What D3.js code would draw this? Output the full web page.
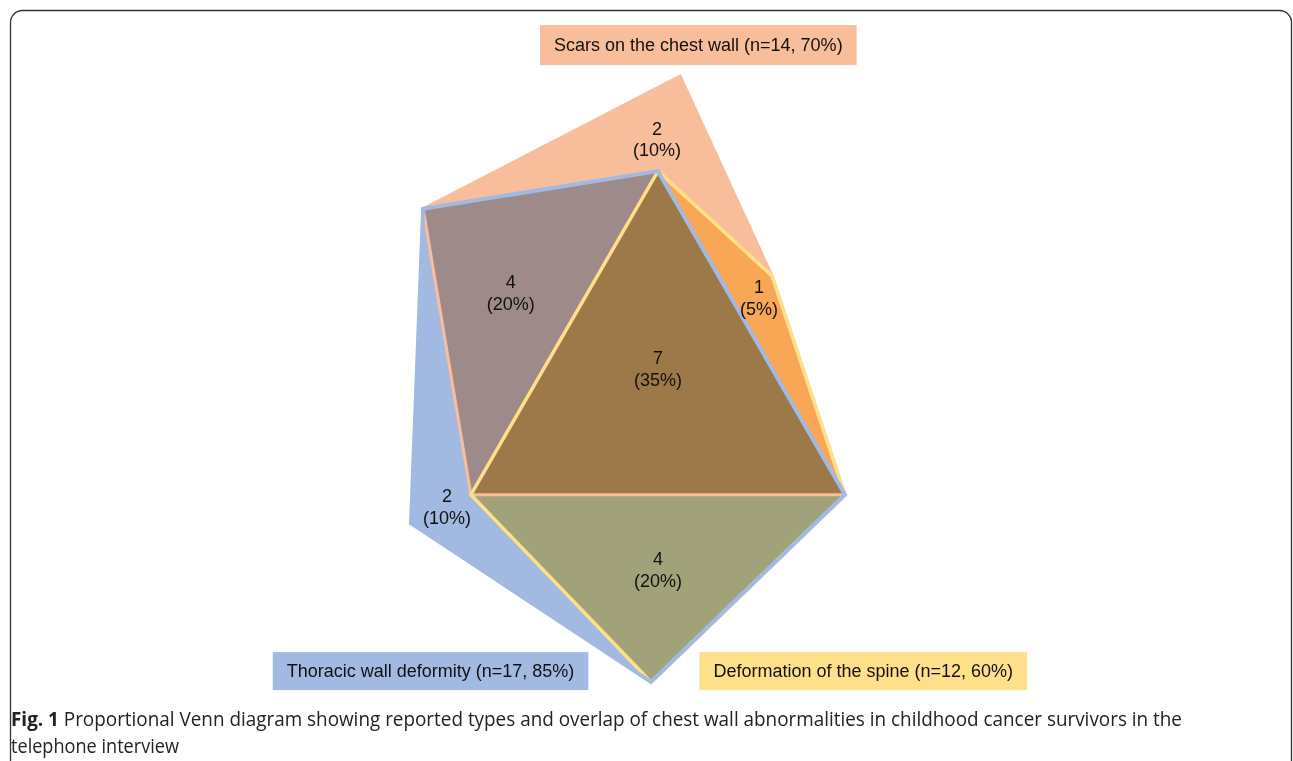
<!DOCTYPE html>
<html>
<head>
<meta charset="utf-8">
<script src="https://cdn.jsdelivr.net/npm/d3@7"></script>
<style>
  body { margin: 0; background: #fff; }
  .fill { mix-blend-mode: multiply; }
  .count { font-family: "Liberation Sans", Arial, sans-serif; font-size: 18px; fill: #111; }
  .setlabel { font-family: "Liberation Sans", Arial, sans-serif; font-size: 18px; fill: #111; }
  .caption { font-family: "Open Sans", sans-serif; font-size: 20px; fill: #222; }
</style>
</head>
<body>
<svg id="chart" width="1293" height="761"></svg>
<script>
// sets shown in the diagram
var setNames = ["Scars on the chest wall", "Thoracic wall deformity", "Deformation of the spine"];
var setCounts = [14, 17, 12];
var setPercents = [70, 85, 60];
var setColors = ["#F8BE9B", "#A2B9E2", "#FFE08A"];

// overlap regions: which sets, count, percent
var regionSets = [["S"], ["S", "T"], ["S", "D"], ["S", "T", "D"], ["T"], ["T", "D"]];
var regionCounts = [2, 4, 1, 7, 2, 4];
var regionPercents = [10, 20, 5, 35, 10, 20];

// hand laid out outline of each set, in diagram units (0-100)
var shapeScars = [[2.8, 21.9], [62.0, 0], [83.2, 33.0], [100, 69.1], [13.8, 69.1]];
var shapeThoracic = [[2.8, 21.9], [56.9, 15.7], [100, 69.1], [55.3, 100], [0, 73.8]];
var shapeSpine = [[56.9, 15.7], [83.2, 33.0], [100, 69.1], [55.3, 100], [13.8, 69.1]];

// where each region's number sits, diagram units
var regionLabelAt = [[56.7, 10.4], [23.0, 35.8], [80.2, 36.6], [56.9, 48.3], [8.3, 71.1], [56.9, 81.4]];
var setLabelAt = [[66.2, -5.1], [4.5, 98.2], [104.2, 98.2]];

var svg = d3.select("#chart");

var x = d3.scaleLinear().domain([0, 100]).range([411, 845]);
var y = d3.scaleLinear().domain([0, 100]).range([76, 682]);

// outer frame
svg.append("rect")
    .attr("x", 10.5).attr("y", 10.5)
    .attr("width", 1281).attr("height", 820)
    .attr("rx", 12)
    .attr("fill", "none")
    .attr("stroke", "#333")
    .attr("stroke-width", 1.3);

var line = d3.line()
    .x(function(d) { return x(d[0]); })
    .y(function(d) { return y(d[1]); })
    .curve(d3.curveLinearClosed);

var shapes = [shapeScars, shapeThoracic, shapeSpine];

// fills multiply so overlaps get their mixed colour
var gFill = svg.append("g");
gFill.selectAll("path")
    .data(shapes)
    .enter()
    .append("path")
    .attr("class", "fill")
    .attr("d", line)
    .attr("fill", function(d, i) { return setColors[i]; });

// outlines: scars first, then spine, then thoracic on top
var strokeOrder = [0, 2, 1];
var strokeWidths = [3, 4, 3.5];
svg.append("g").selectAll("path")
    .data(strokeOrder)
    .enter()
    .append("path")
    .attr("d", function(i) { return line(shapes[i]); })
    .attr("fill", "none")
    .attr("stroke", function(i) { return setColors[i]; })
    .attr("stroke-width", function(i) { return strokeWidths[i]; })
    .attr("stroke-linejoin", "miter");

// region numbers
var gCounts = svg.append("g");
regionCounts.forEach(function(c, i) {
    var t = gCounts.append("text")
        .attr("class", "count")
        .attr("text-anchor", "middle")
        .attr("x", x(regionLabelAt[i][0]))
        .attr("y", y(regionLabelAt[i][1]));
    t.append("tspan").attr("x", x(regionLabelAt[i][0])).attr("dy", "-0.25em").text(c);
    t.append("tspan").attr("x", x(regionLabelAt[i][0])).attr("dy", "1.22em").text("(" + regionPercents[i] + "%)");
});

// set name boxes
var gSets = svg.append("g");
setNames.forEach(function(name, i) {
    var cx = x(setLabelAt[i][0]), cy = y(setLabelAt[i][1]);
    var g = gSets.append("g");
    var r = g.append("rect").attr("fill", setColors[i]);
    var t = g.append("text")
        .attr("class", "setlabel")
        .attr("text-anchor", "middle")
        .attr("x", cx)
        .attr("y", cy + 6)
        .text(name + " (n=" + setCounts[i] + ", " + setPercents[i] + "%)");
    var w = t.node().getComputedTextLength() + 28;
    var h = i === 0 ? 40 : 38;
    r.attr("x", cx - w / 2).attr("y", cy - h / 2).attr("width", w).attr("height", h);
});

// caption
var cap = svg.append("text")
    .attr("class", "caption")
    .attr("x", 11).attr("y", 726)
    .attr("textLength", 1171)
    .attr("lengthAdjust", "spacingAndGlyphs");
cap.append("tspan").attr("font-weight", "bold").text("Fig. 1");
cap.append("tspan").text(" Proportional Venn diagram showing reported types and overlap of chest wall abnormalities in childhood cancer survivors in the");

svg.append("text")
    .attr("class", "caption")
    .attr("x", 11).attr("y", 753)
    .attr("textLength", 168)
    .attr("lengthAdjust", "spacingAndGlyphs")
    .text("telephone interview");
</script>
</body>
</html>
